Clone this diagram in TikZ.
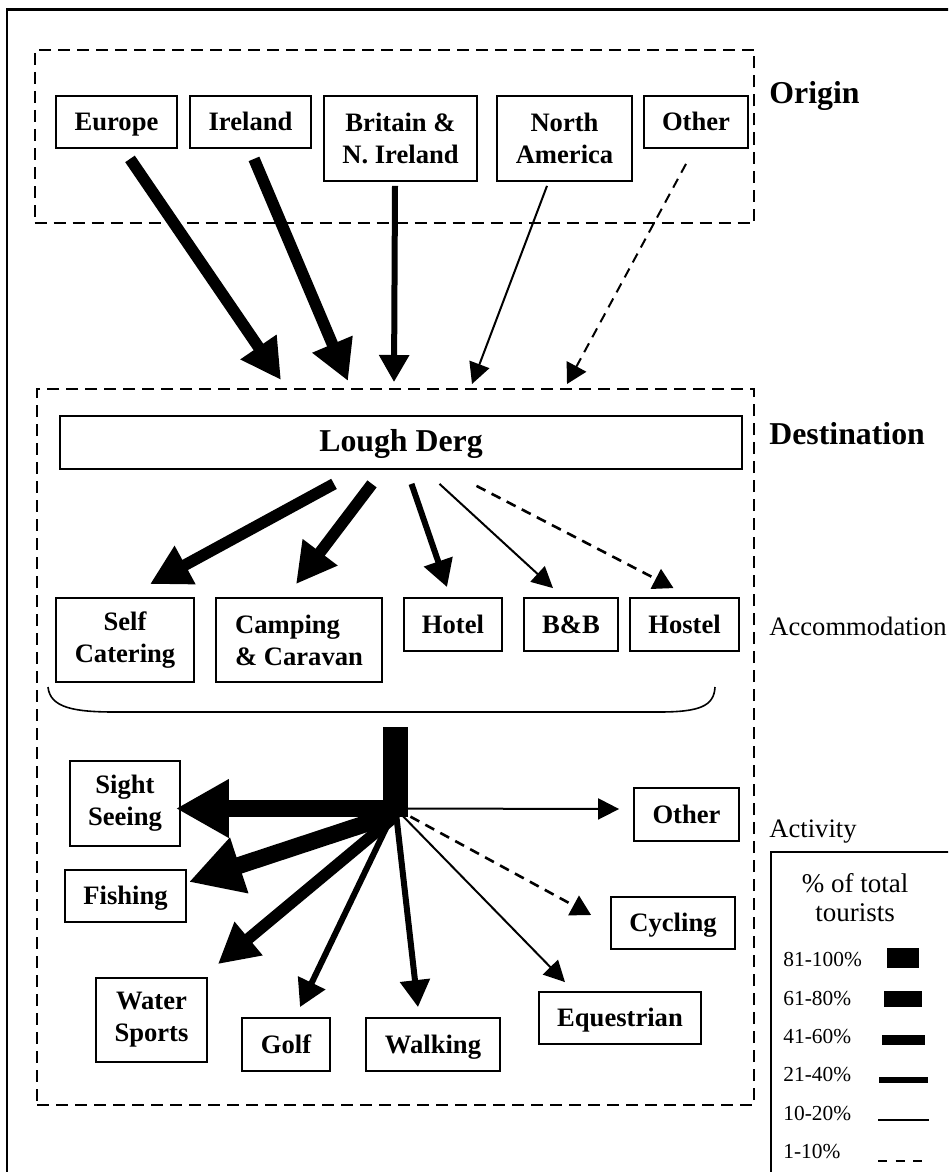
\documentclass[tikz,border=0pt]{standalone}
\usepackage{fontspec}
\setmainfont{Liberation Serif}
\usetikzlibrary{positioning,arrows.meta,calc}

\begin{document}
\begin{tikzpicture}[
  x=.5pt,y=-.5pt,
  font=\fontsize{13.3}{15.9}\selectfont,
  placebox/.style={draw,black,line width=.9pt,inner sep=0pt,align=center,
    font=\bfseries\fontsize{13.3}{15.9}\selectfont},
  oneline/.style={placebox,text height=1.05em,text depth=.2em},
  sized/.style 2 args={minimum width=#1*.5pt,minimum height=#2*.5pt},
  regionbox/.style={draw,black,line width=1pt,dash pattern=on 6pt off 3.5pt},
  sectiontitle/.style={anchor=base west,inner sep=0pt,font=\bfseries\fontsize{15.9}{19}\selectfont},
  sectionnote/.style={anchor=base west,inner sep=0pt,font=\fontsize{13.3}{16}\selectfont},
  sharefull/.style={line width=12.5pt},
  sharehigh/.style={line width=8.5pt,-{Triangle[length=26.5pt,width=27.5pt]}},
  sharemid/.style={line width=5.8pt,-{Triangle[length=20pt,width=20.5pt]}},
  sharelow/.style={line width=3pt,-{Triangle[length=13.5pt,width=14.5pt]}},
  sharemin/.style={line width=1pt,-{Triangle[length=10.5pt,width=10.5pt]}},
  sharetiny/.style={line width=1.3pt,dash pattern=on 5pt off 3.5pt,-{Triangle[length=10pt,width=11pt]}}
]
\useasboundingbox (0,0) rectangle (948,1172);
\clip (0,0) rectangle (948,1172);
\draw[line width=1.2pt] (7,1200) -- (7,9.5) -- (1000,9.5);

% origin and destination regions
\node[regionbox,sized={719.5}{173}] (origin) at (394.25,136.5) {};
\node[regionbox,sized={717}{716}] (dest) at (395.5,747) {};
\node[sectiontitle] (origintitle) at (769,104) {Origin};
\node[sectiontitle] (desttitle) at (769,444) {Destination};
\node[sectionnote] (accomnote) at (769,635) {Accommodation};
\node[sectionnote] (activitynote) at (769,837) {Activity};

\node[oneline,sized={121}{52}] (europe) at (116.5,122) {Europe};
\node[oneline,sized={121}{52}] (ireland) at (250.5,122) {Ireland};
\node[placebox,sized={153}{85}] (britain) at (400.5,138.5) {Britain \&\\N. Ireland};
\node[placebox,sized={135}{85}] (namerica) at (564.5,138.5) {North\\America};
\node[oneline,sized={104}{52}] (elsewhere) at (696,122) {Other};

\coordinate (arrive1) at ($(dest.north west)+(245,-8)$);
\coordinate (arrive2) at ($(dest.north west)+(312,-7)$);
\coordinate (arrive3) at ($(dest.north west)+(358,-6)$);
\coordinate (arrive4) at ($(dest.north west)+(436,-4)$);
\coordinate (arrive5) at ($(dest.north west)+(531,-4)$);
\draw[sharemid] ($(europe.south)+(13.5,10)$) -- (arrive1);
\draw[sharemid] ($(ireland.south)+(3.5,10)$) -- (arrive2);
\draw[sharelow] ($(britain.south)+(-5.5,4)$) -- (arrive3);
\draw[sharemin] ($(namerica.south)+(-17.5,4)$) -- (arrive4);
\draw[sharetiny,line width=1pt] ($(elsewhere.south)+(-10,15)$) -- (arrive5);

% accommodation
\node[oneline,sized={682}{53},font=\bfseries\fontsize{15.9}{19}\selectfont] (lough) at (401,442.5) {Lough Derg};
\node[placebox,sized={138}{84}] (selfcat) at (125,640) {Self\\Catering};
\node[placebox,sized={166}{84},align=left] (camping) at (299,640) {Camping\\\& Caravan};
\node[oneline,sized={98}{53}] (hotel) at (453,624.5) {Hotel};
\node[oneline,sized={94}{53}] (bnb) at (571,624.5) {B\&B};
\node[oneline,sized={109}{53}] (hostel) at (684.5,624.5) {Hostel};

\draw[sharemid] ($(lough.south)+(-67,14)$) -- ($(selfcat.north)+(25,-13)$);
\draw[sharemid] ($(lough.south)+(-29,14)$) -- ($(camping.north)+(-3,-13)$);
\draw[sharelow] ($(lough.south)+(10.5,14)$) -- ($(hotel.north)+(-6,-10)$);
\draw[sharemin] ($(lough.south)+(38.5,14)$) -- ($(bnb.north)+(-18,-9)$);
\draw[sharetiny] ($(lough.south)+(75.5,16)$) -- ($(hostel.north)+(-11,-9)$);

\draw[line width=.8pt] (48,687) .. controls (50,708) and (75,712) .. (115,712)
  -- (659,712) .. controls (700,712) and (714,706) .. (715,687);

% activity
\node[placebox,sized={110}{85}] (sight) at (125,803.5) {Sight\\Seeing};
\node[oneline,sized={105}{53}] (otheract) at (686.5,814.5) {Other};
\node[oneline,sized={121}{52}] (fishing) at (125.5,896) {Fishing};
\node[oneline,sized={124}{52}] (cycling) at (673,923) {Cycling};
\node[placebox,sized={111}{84}] (water) at (151.5,1020) {Water\\Sports};
\node[oneline,sized={88}{53}] (golf) at (286,1044.5) {Golf};
\node[oneline,sized={134}{53}] (walking) at (433,1044.5) {Walking};
\node[oneline,sized={162}{52}] (equestrian) at (620,1018) {Equestrian};

\coordinate (hubtop) at (395.5,727);
\coordinate (hub) at (395.5,808.5);
\draw[sharefull] (hubtop) -- (hub);
\draw[sharehigh] ($(hub)+(12.5,0)$) -- ($(sight.east)+(-5,5)$);
\draw[sharemin] (hub) -- ($(otheract.west)+(-14,-5.5)$);
\draw[sharemid] ($(hub)+(-3,10)$) -- ($(water.north east)+(10,-13)$);
\draw[sharehigh] ($(hub)+(-2,6)$) -- ($(fishing.east)+(2,-14)$);
\draw[sharelow] (hub) -- ($(golf.north)+(14,-10)$);
\draw[sharelow] (hub) -- ($(walking.north)+(-15,-10)$);
\draw[sharemin] (hub) -- ($(equestrian.north)+(-55,-9)$);
\draw[sharetiny] (hub) -- ($(cycling.west)+(-19,-8)$);

% legend
\draw[line width=1.2pt] (1000,852) -- (771,852) -- (771,1200);
\node[align=center,font=\fontsize{13.5}{14.5}\selectfont] (legendtitle) at (855,898) {\% of total\\tourists};
\foreach \band/\by/\sy/\sl/\sr/\sw [count=\i] in {
    81-100\%/966.7/958/887/919/10pt,
    61-80\%/1005.3/999/884/922/8pt,
    41-60\%/1043.7/1040/882/925/5pt,
    21-40\%/1081.7/1080/879/928/3pt,
    10-20\%/1120/1120/878/929/1pt} {
  \node[anchor=base west,inner sep=0pt,font=\fontsize{10.7}{12}\selectfont] (band\i) at (783,\by) {\band};
  \draw[line width=\sw] (\sl,\sy) -- (\sr,\sy);
}
\node[anchor=base west,inner sep=0pt,font=\fontsize{10.7}{12}\selectfont] (band6) at (783,1158.3) {1-10\%};
\draw[line width=1.3pt,dash pattern=on 4.5pt off 4.3pt] (878,1161) -- (924,1161);
\end{tikzpicture}
\end{document}
